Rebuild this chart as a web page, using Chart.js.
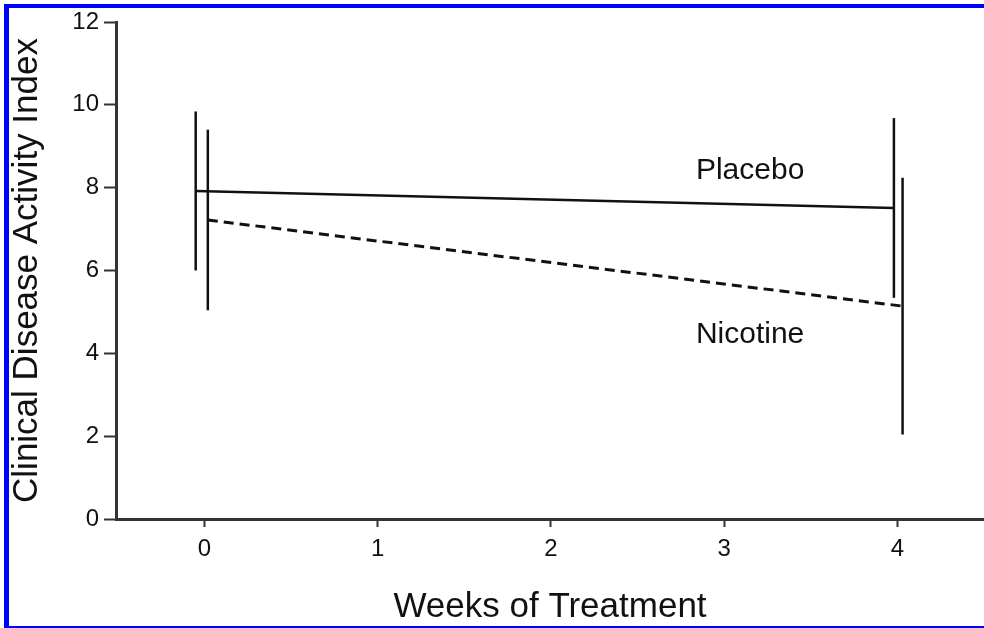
<!DOCTYPE html>
<html>
<head>
<meta charset="utf-8">
<script src="https://cdn.jsdelivr.net/npm/chart.js@4/dist/chart.umd.min.js"></script>
<style>
  html, body { margin: 0; padding: 0; background: #fff; }
  #wrap { position: relative; width: 984px; height: 628px; overflow: hidden; }
  #frame {
    position: absolute; left: 4px; top: 4px; width: 980px; height: 624px;
    box-sizing: border-box;
    border-top: 4px solid #0000ff; border-left: 5px solid #0000ff; border-bottom: 2px solid #0000ff;
    pointer-events: none;
  }
</style>
</head>
<body>
<div id="wrap">
  <canvas id="grafico" width="984" height="628"></canvas>
  <div id="frame"></div>
</div>
<script>
// datos
const weekTicks = [0, 1, 2, 3, 4];
const yTicks = [0, 2, 4, 6, 8, 10, 12];
// posiciones en x tal como aparecen (ligeramente desplazadas para no solaparse)
const placeboWeeks = [-0.05, 3.98];
const nicotineWeeks = [0.02, 4.03];
const placeboMean = [7.92, 7.51];
const placeboErr = [1.92, 2.17];
const nicotineMean = [7.22, 5.14];
const nicotineErr = [2.18, 3.1];
const seriesLabels = ['Placebo', 'Nicotine'];

const fuente = '"Liberation Sans", Arial, Helvetica, sans-serif';
const tinta = '#111';

// barras de error verticales sin remate
const barrasError = {
  id: 'barrasError',
  afterDatasetsDraw(chart) {
    const ctx = chart.ctx;
    const xs = chart.scales.x, ys = chart.scales.y;
    const grupos = [
      [placeboWeeks, placeboMean, placeboErr],
      [nicotineWeeks, nicotineMean, nicotineErr]
    ];
    ctx.save();
    ctx.strokeStyle = tinta;
    ctx.lineWidth = 2.5;
    grupos.forEach(([wx, m, e]) => {
      wx.forEach((w, i) => {
        const px = xs.getPixelForValue(w);
        ctx.beginPath();
        ctx.moveTo(px, ys.getPixelForValue(m[i] + e[i]));
        ctx.lineTo(px, ys.getPixelForValue(m[i] - e[i]));
        ctx.stroke();
      });
    });
    // etiquetas de las series
    ctx.fillStyle = tinta;
    ctx.font = '30px ' + fuente;
    ctx.textAlign = 'center';
    ctx.textBaseline = 'middle';
    ctx.fillText(seriesLabels[0], xs.getPixelForValue(3.15), ys.getPixelForValue(8.4));
    ctx.fillText(seriesLabels[1], xs.getPixelForValue(3.15), ys.getPixelForValue(4.45));
    ctx.restore();
  }
};

new Chart(document.getElementById('grafico'), {
  type: 'line',
  data: {
    datasets: [
      {
        label: seriesLabels[0],
        data: placeboWeeks.map((w, i) => ({ x: w, y: placeboMean[i] })),
        borderColor: tinta,
        borderWidth: 2.5,
        pointRadius: 0,
        tension: 0
      },
      {
        label: seriesLabels[1],
        data: nicotineWeeks.map((w, i) => ({ x: w, y: nicotineMean[i] })),
        borderColor: tinta,
        borderWidth: 3,
        borderDash: [10, 6],
        pointRadius: 0,
        tension: 0
      }
    ]
  },
  options: {
    responsive: false,
    animation: false,
    layout: { padding: { top: 22, right: 0, bottom: 0, left: 0 } },
    plugins: { legend: { display: false }, tooltip: { enabled: false } },
    scales: {
      x: {
        type: 'linear',
        min: -0.51,
        max: 4.5,
        afterBuildTicks: (eje) => { eje.ticks = weekTicks.map(v => ({ value: v })); },
        afterFit: (eje) => { eje.height = 109; },
        border: { display: true, color: '#333', width: 3 },
        grid: { drawOnChartArea: false, drawTicks: true, tickLength: 8, tickWidth: 2, color: '#333' },
        ticks: { color: tinta, font: { family: fuente, size: 24 }, padding: 8, maxRotation: 0 },
        title: {
          display: true, text: 'Weeks of Treatment', color: tinta,
          font: { family: fuente, size: 35 }, padding: { top: 0, bottom: 0 }
        }
      },
      y: {
        min: 0,
        max: 12,
        afterBuildTicks: (eje) => { eje.ticks = yTicks.map(v => ({ value: v })); },
        afterFit: (eje) => { eje.width = 116; },
        border: { display: true, color: '#333', width: 3 },
        grid: { drawOnChartArea: false, drawTicks: true, tickLength: 12, tickWidth: 2, color: '#333' },
        ticks: { color: tinta, font: { family: fuente, size: 24 }, padding: 5 },
        title: {
          display: true, text: 'Clinical Disease Activity Index', color: tinta,
          font: { family: fuente, size: 35 }, padding: { top: 6, bottom: 0 }
        }
      }
    }
  },
  plugins: [barrasError]
});
</script>
</body>
</html>
